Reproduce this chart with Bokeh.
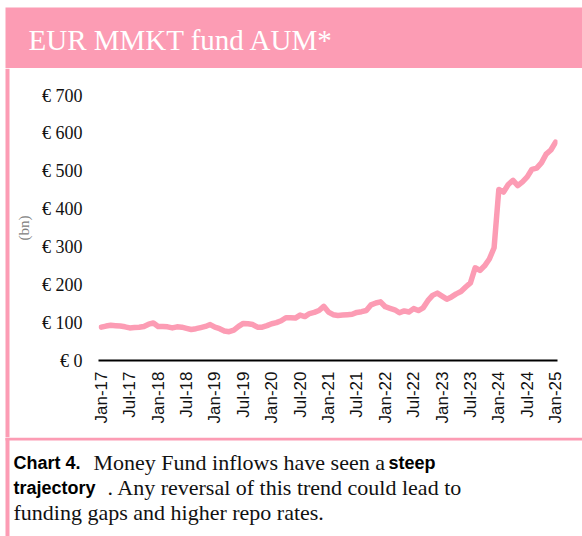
import math
import pandas as pd
from bokeh.plotting import figure
from bokeh.layouts import column, row
from bokeh.models import Range1d, FixedTicker, ColumnDataSource
from bokeh.core.properties import value
from bokeh.embed import file_html
from bokeh.resources import INLINE

# ---------------- data ----------------
dates = pd.date_range("2017-01-01", "2025-01-01", freq="MS")
aum_bn = [
    88, 91, 93, 92, 91, 89, 86, 87, 88, 90, 96, 99,          # 2017
    90, 90, 89, 86, 89, 88, 85, 82, 84, 87, 90, 95,          # 2018
    88, 84, 78, 76, 80, 90, 98, 97, 95, 88, 88, 92,          # 2019
    97, 100, 105, 113, 113, 112, 120, 116, 124, 127, 132, 143,  # 2020
    128, 121, 119, 120, 121, 122, 127, 129, 132, 147, 152, 155,  # 2021
    142, 138, 134, 126, 131, 128, 137, 132, 139, 158, 172, 178,  # 2022
    170, 162, 168, 176, 182, 194, 205, 245, 238, 250, 268, 298,  # 2023
    452, 445, 465, 476, 462, 472, 485, 505, 508, 522, 545, 556,  # 2024
    577,                                                      # 2025
]
x_tick_labels = ["Jan-17", "Jul-17", "Jan-18", "Jul-18", "Jan-19", "Jul-19",
                 "Jan-20", "Jul-20", "Jan-21", "Jul-21", "Jan-22", "Jul-22",
                 "Jan-23", "Jul-23", "Jan-24", "Jul-24", "Jan-25"]
y_ticks = [0, 100, 200, 300, 400, 500, 600, 700]
y_tick_labels = ["€ 0", "€ 100", "€ 200", "€ 300", "€ 400", "€ 500", "€ 600", "€ 700"]

title_text = "EUR MMKT fund AUM*"
y_axis_title = "(bn)"
caption_segments = [
    # (line, text, kind)
    (0, "Chart 4.", "bold"),
    (0, "Money Fund inflows have seen a", "serif"),
    (0, "steep", "bold"),
    (1, "trajectory", "bold"),
    (1, ". Any reversal of this trend could lead to", "serif"),
    (2, "funding gaps and higher repo rates.", "serif"),
]

PINK = "#fc9cb4"
W, H = 582, 536
HEAD_H = 68          # header band bottom
RULE_Y = 437         # caption rule top
MID_H = RULE_Y - HEAD_H
CAP_H = H - RULE_Y
STRIP_W = 10


def blank_fig(w, h, y0, y1):
    f = figure(width=w, height=h, output_backend="svg", toolbar_location=None,
               x_range=Range1d(0, w), y_range=Range1d(y1, y0),
               x_axis_location=None, y_axis_location=None,
               min_border=0, min_border_left=0, min_border_right=0,
               min_border_top=0, min_border_bottom=0,
               outline_line_color=None, background_fill_color="white",
               border_fill_color="white", frame_align=False)
    f.grid.visible = False
    return f


# ---------------- header ----------------
head = blank_fig(W, HEAD_H, 0, HEAD_H)
head.quad(left=[5], right=[W], top=[7], bottom=[HEAD_H], fill_color=PINK,
          line_color=None)
head.text(x=[28], y=[39], text=[title_text], text_font=value("Liberation Serif"),
          text_font_size="29px", text_color="white", text_baseline="alphabetic")

# ---------------- left strip ----------------
strip = blank_fig(STRIP_W, MID_H, 0, MID_H)
strip.quad(left=[5], right=[9], top=[0], bottom=[MID_H], fill_color=PINK,
           line_color=None)

# ---------------- chart ----------------
month_idx = list(range(len(dates)))
x_tick_idx = [i for i, d in enumerate(dates) if d.month in (1, 7)]
src = ColumnDataSource(dict(x=month_idx, y=aum_bn))

p = figure(width=W - STRIP_W, height=MID_H, output_backend="svg",
           toolbar_location=None,
           x_range=Range1d(-0.6, 96.4), y_range=Range1d(0, 700),
           min_border_left=98 - STRIP_W, min_border_right=25,
           min_border_top=95 - HEAD_H, min_border_bottom=RULE_Y - 360,
           background_fill_color="white", border_fill_color="white",
           outline_line_color=None, frame_align=False)

p.line("x", "y", source=src, line_color=PINK, line_width=5.5,
       line_join="round", line_cap="round")
p.grid.visible = False

xa = p.xaxis[0]
xa.ticker = FixedTicker(ticks=x_tick_idx)
xa.major_label_overrides = {i: lab for i, lab in zip(x_tick_idx, x_tick_labels)}
xa.major_label_orientation = math.pi / 2
xa.major_label_text_font = "Liberation Sans"
xa.major_label_text_font_size = "17px"
xa.major_label_text_color = "#111111"
xa.major_label_standoff = 5
xa.axis_line_color = "black"
xa.axis_line_width = 2
xa.major_tick_line_color = None
xa.minor_tick_line_color = None

ya = p.yaxis[0]
ya.ticker = FixedTicker(ticks=y_ticks)
ya.major_label_overrides = {v: lab for v, lab in zip(y_ticks, y_tick_labels)}
ya.major_label_text_font = "Liberation Serif"
ya.major_label_text_font_size = "18px"
ya.major_label_text_color = "#111111"
ya.major_label_standoff = 10
ya.axis_line_color = None
ya.major_tick_line_color = None
ya.minor_tick_line_color = None
ya.axis_label = y_axis_title
ya.axis_label_text_font = "Liberation Serif"
ya.axis_label_text_font_style = "normal"
ya.axis_label_text_font_size = "15px"
ya.axis_label_text_color = "#808080"
ya.axis_label_standoff = 7

# ---------------- caption ----------------
cap = blank_fig(W, CAP_H, RULE_Y, H)
cap.quad(left=[5], right=[W], top=[RULE_Y], bottom=[RULE_Y + 3],
         fill_color=PINK, line_color=None)
cap.quad(left=[5], right=[9], top=[RULE_Y], bottom=[H], fill_color=PINK,
         line_color=None)

seg_x = [13, 93, 388, 13, 107, 13]          # layout positions of the segments
line_base = [462, 487, 512]
for (ln, txt, kind), sx in zip(caption_segments, seg_x):
    if kind == "bold":
        cap.text(x=[sx], y=[line_base[ln]], text=[txt],
                 text_font=value("Liberation Sans"), text_font_style="bold",
                 text_font_size="18px", text_color="black",
                 text_baseline="alphabetic")
    else:
        cap.text(x=[sx], y=[line_base[ln]], text=[txt],
                 text_font=value("Liberation Serif"), text_font_size="22px",
                 text_color="#111111", text_baseline="alphabetic")

layout = column(head, row(strip, p, spacing=0), cap, spacing=0)

open("out.html", "w").write(file_html(layout, INLINE))
